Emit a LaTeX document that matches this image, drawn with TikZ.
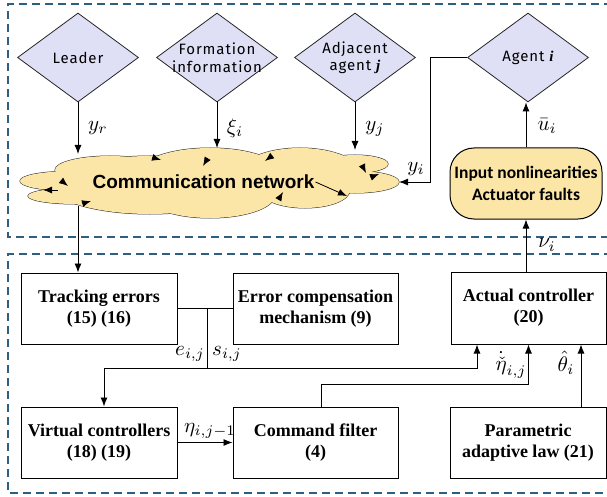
\documentclass[tikz,border=0pt]{standalone}
\usepackage{graphicx}
\usepackage{fontspec}
\setmainfont{Liberation Serif}
\newfontfamily\diafont[LetterSpace=6]{Fira Sans}
\newfontfamily\netfont{Liberation Sans}
\newfontfamily\boxsans{Carlito}
\usetikzlibrary{shapes.geometric,arrows.meta,calc}
\definecolor{diafill}{HTML}{DFDFF5}
\definecolor{cloudfill}{HTML}{FCE6A7}
\definecolor{framecol}{HTML}{2F5F80}
% signal labels: math set large
\newcommand\siglab[1]{\scalebox{2.1}{$#1$}}
\begin{document}
\begin{tikzpicture}[x=1pt,y=-1pt,
  dia/.style={diamond,draw=black!85,line width=0.8pt,fill=diafill,
    minimum width=121pt,minimum height=89pt,inner sep=0pt},
  diatext/.style={font=\diafont\fontsize{15}{17.5}\selectfont,align=center,inner sep=0pt},
  blk/.style={draw,line width=1pt,align=center,inner sep=0pt,
    font=\bfseries\fontsize{18}{21}\selectfont},
  arr/.style={line width=0.9pt,-{Latex[length=9pt,width=7pt]}},
  ln/.style={line width=0.9pt},
  lbl/.style={inner sep=0pt},
  frm/.style={draw=framecol,line width=1.3pt,dash pattern=on 8pt off 5pt},
  cltip/.style={line width=0.8pt,-{Latex[length=9pt,width=7pt]}},
]
\useasboundingbox (0,0) rectangle (607,497);

% dashed group frames (open to the right)
\draw[frm] (612,4) -- (8,4) -- (8,237) -- (612,237);
\draw[frm] (612,254) -- (8,254) -- (8,493) -- (612,493);

% information sources
\node[dia] (leader) at (78,57.5) {};
\node[diatext] (leadertxt) at (leader) {Leader};
\node[dia] (form) at (217,57.5) {};
\node[diatext] (formtxt) at (form) {Formation\\information};
\node[dia] (adj) at (355,57.5) {};
\node[diatext] (adjtxt) at (adj) {Adjacent\\agent {\rmfamily\bfseries\itshape j}};
\node[dia] (agent) at (528,57.5) {};
\node[diatext] (agenttxt) at (agent) {Agent {\rmfamily\bfseries\itshape i}};

% communication network cloud
\foreach \cx/\cy/\rx/\ry in {65/181/45/9.5, 75/196/47/8, 110/170/55/14, 150/185/98/29,
    210/172/70/24, 210/195/65/23, 300/175/62/27, 305/190/45/18, 355/164/33/9, 355/182/44/11}
  \draw[line width=1pt,black!85] (\cx,\cy) ellipse [x radius=\rx,y radius=\ry];
\foreach \cx/\cy/\rx/\ry in {65/181/45/9.5, 75/196/47/8, 110/170/55/14, 150/185/98/29,
    210/172/70/24, 210/195/65/23, 300/175/62/27, 305/190/45/18, 355/164/33/9, 355/182/44/11}
  \fill[cloudfill] (\cx,\cy) ellipse [x radius=\rx,y radius=\ry];
\node[font=\netfont\bfseries\fontsize{19}{22}\selectfont,inner sep=1pt] (net) at (203.5,182) {Communication network};

% links inside the network
\draw[cltip] (61,180.4) -- (68,186);
\draw[cltip] (58,190) -- (43,190);
\draw[cltip] (82.4,203.6) -- (91,201);
\draw[cltip] (152.4,157.4) -- (161,160);
\draw[cltip] (207.6,158.3) -- (203,166);
\draw[cltip] (272.2,155.6) -- (265,161);
\draw[cltip] (278.4,199.7) -- (283,192);
\draw[cltip] (362,165) -- (366,173);
\draw[cltip] (370.6,177.3) -- (379,174);
\coordinate (netlink) at (347,196);
\draw[cltip] (net.east) -- (netlink);

% cloud boundary points
\coordinate (inL) at (78,154);
\coordinate (inF) at (217,148);
\coordinate (inA) at (355,150);
\coordinate (netR) at (399,182);
\coordinate (netB) at (78,206);

% agent side
\node[draw,line width=1pt,fill=cloudfill,rounded corners=24pt,minimum width=152pt,
  minimum height=71pt,align=center,inner sep=0pt,
  font=\boxsans\bfseries\fontsize{17.5}{22}\selectfont] (inbox) at (526,183.5)
  {Input nonlinearities\\Actuator faults};

% controller blocks
\node[blk,minimum width=156pt,minimum height=71pt] (track) at (99,308.5) {Tracking errors\\(15) (16)};
\node[blk,minimum width=165pt,minimum height=71pt] (errc) at (315.5,308.5) {Error compensation\\mechanism (9)};
\node[blk,minimum width=155pt,minimum height=72pt] (actual) at (528.5,308) {Actual controller\\(20)};
\node[blk,minimum width=156pt,minimum height=71pt] (virt) at (99,442.5) {Virtual controllers\\(18) (19)};
\node[blk,minimum width=165pt,minimum height=71pt] (cmd) at (315.5,442.5) {Command filter\\(4)};
\node[blk,minimum width=156pt,minimum height=71pt] (param) at (528,442.5) {Parametric\\adaptive law (21)};

% signals into the network
\draw[arr] (leader.south) -- (inL);
\draw[arr] (form.south) -- (inF);
\draw[arr] (adj.south) -- (inA);
\draw[arr] (agent.west) -- ++(-37,0) |- (netR);
\node[lbl] (lyr) at (98,128) {\siglab{y_r}};
\node[lbl] (lxi) at (235,128) {\siglab{\xi_i}};
\node[lbl] (lyj) at (375,129) {\siglab{y_j}};
\node[lbl] (lyi) at (416,169) {\siglab{y_i}};

% plant side
\draw[arr] (inbox.north) -- (inbox.north |- agent.south);
\node[lbl] (lu) at (547,126) {\siglab{\bar{u}_i}};
\draw[arr] (actual.north -| inbox.north) -- (inbox.south);
\node[lbl] (lnu) at (547,245) {\siglab{\nu_i}};

% network to tracking errors
\draw[arr] (netB) -- (netB |- track.north);

% errors and compensated signals
\draw[ln] (track.east) -- (errc.west);
\coordinate (jn) at (207,308.5);
\coordinate (jb) at (207,368);
\draw[ln] (jn) -- (jb);
\draw[arr] (jb) -| ($(virt.north)+(5,0)$);
\draw[arr] (jb) -| ($(actual.south)+(-51.5,0)$);
\node[lbl] (le) at (190,354) {\siglab{e_{i,j}}};
\node[lbl] (ls) at (227,354) {\siglab{s_{i,j}}};

% virtual control, filter and adaptation
\draw[arr] (virt.east) -- (cmd.west);
\node[lbl] (leta) at (210,431) {\siglab{\eta_{i,j-1}}};
\draw[arr] ($(cmd.north)+(5.5,0)$) -- ++(0,-22) -| (actual.south);
\node[lbl] (ldeta) at (511,365) {\siglab{\dot{\check{\eta}}_{i,j}}};
\draw[arr] ($(param.north)+(53,0)$) -- ($(actual.south)+(52.5,0)$);
\node[lbl] (lth) at (566,363) {\siglab{\hat{\theta}_i}};
\end{tikzpicture}
\end{document}
